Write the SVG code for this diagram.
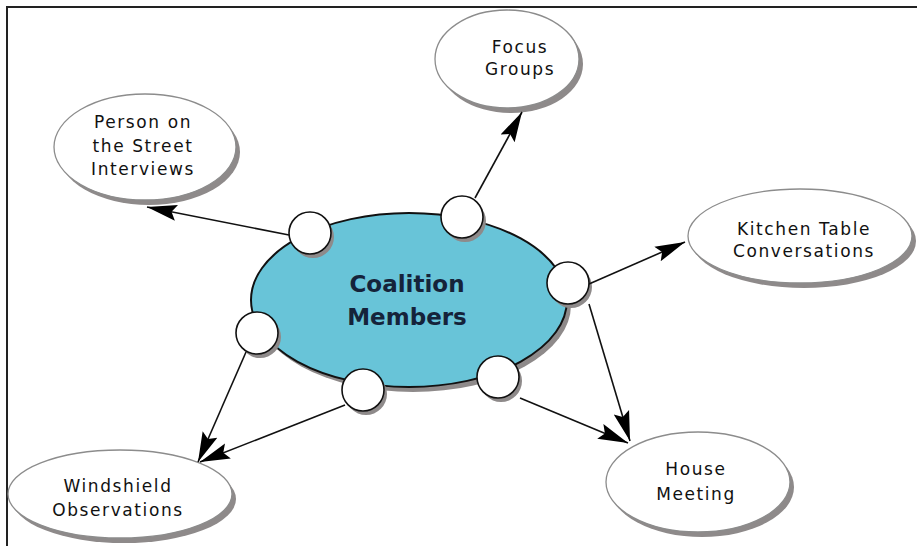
<svg xmlns="http://www.w3.org/2000/svg" width="917" height="546" viewBox="0 0 917 546">
<style>
.lbl{font-family:"DejaVu Sans","Liberation Sans",sans-serif;font-size:17px;fill:#111;text-anchor:middle;letter-spacing:1.6px}
.big{font-family:"DejaVu Sans","Liberation Sans",sans-serif;font-size:23px;font-weight:bold;fill:#15233a;text-anchor:middle}
.sh{fill:#8e8a8a}
.el{fill:#fff;stroke:#8c8c8c;stroke-width:1.3}
.port{fill:#fff;stroke:#111;stroke-width:1.6}
.con{stroke:#111;stroke-width:1.6;fill:none;marker-end:url(#ah)}
</style>
<defs>
<marker id="ah" markerUnits="userSpaceOnUse" markerWidth="32" markerHeight="18" refX="30" refY="9" orient="auto">
<path d="M0,1 L30,9 L0,17 L5,9 z" fill="#000"/>
</marker>
</defs>
<rect x="0" y="0" width="917" height="546" fill="#fff"/>
<rect x="7" y="7" width="930" height="560" fill="none" stroke="#222" stroke-width="2"/>

<g id="person">
<ellipse class="sh" cx="149" cy="152" rx="91" ry="53"/>
<ellipse class="el" cx="145" cy="147" rx="91" ry="53"/>
<text class="lbl" x="143" y="128">Person on</text>
<text class="lbl" x="143" y="152">the Street</text>
<text class="lbl" x="143" y="175">Interviews</text>
</g>

<g id="focus">
<ellipse class="sh" cx="511" cy="64" rx="72" ry="49"/>
<ellipse class="el" cx="507" cy="59" rx="72" ry="49"/>
<text class="lbl" x="520" y="53">Focus</text>
<text class="lbl" x="520" y="75">Groups</text>
</g>

<g id="kitchen">
<ellipse class="sh" cx="804" cy="241" rx="112" ry="47"/>
<ellipse class="el" cx="800" cy="236" rx="112" ry="47"/>
<text class="lbl" x="804" y="235">Kitchen Table</text>
<text class="lbl" x="804" y="257">Conversations</text>
</g>

<g id="windshield">
<ellipse class="sh" cx="124" cy="499" rx="112" ry="44"/>
<ellipse class="el" cx="120" cy="494" rx="112" ry="44"/>
<text class="lbl" x="118" y="492">Windshield</text>
<text class="lbl" x="118" y="516">Observations</text>
</g>

<g id="house">
<ellipse class="sh" cx="702" cy="487" rx="92" ry="50"/>
<ellipse class="el" cx="698" cy="482" rx="92" ry="50"/>
<text class="lbl" x="696" y="475">House</text>
<text class="lbl" x="696" y="500">Meeting</text>
</g>

<g id="coalition">
<ellipse class="sh" cx="413" cy="305" rx="158" ry="87"/>
<ellipse cx="409" cy="300" rx="158" ry="87" fill="#68c4d8" stroke="#111" stroke-width="2"/>
<text class="big" x="407" y="292">Coalition</text>
<text class="big" x="407" y="325">Members</text>
</g>

<g id="ports">
<circle class="sh" cx="313" cy="237" r="21"/>
<circle class="port" cx="310" cy="233" r="21"/>
<circle class="sh" cx="465" cy="221" r="21"/>
<circle class="port" cx="462" cy="217" r="21"/>
<circle class="sh" cx="571" cy="287" r="21"/>
<circle class="port" cx="568" cy="283" r="21"/>
<circle class="sh" cx="260" cy="337" r="21"/>
<circle class="port" cx="257" cy="333" r="21"/>
<circle class="sh" cx="366" cy="394" r="21"/>
<circle class="port" cx="363" cy="390" r="21"/>
<circle class="sh" cx="501" cy="381" r="21"/>
<circle class="port" cx="498" cy="377" r="21"/>
</g>

<g id="connectors">
<line class="con" x1="289" y1="235" x2="147" y2="207"/>
<line class="con" x1="475" y1="198" x2="522" y2="112"/>
<line class="con" x1="589" y1="284" x2="685" y2="242"/>
<line class="con" x1="589" y1="304" x2="630" y2="441"/>
<line class="con" x1="520" y1="398" x2="628" y2="443"/>
<line class="con" x1="246" y1="352" x2="198" y2="462"/>
<line class="con" x1="345" y1="405" x2="200" y2="462"/>
</g>
</svg>
